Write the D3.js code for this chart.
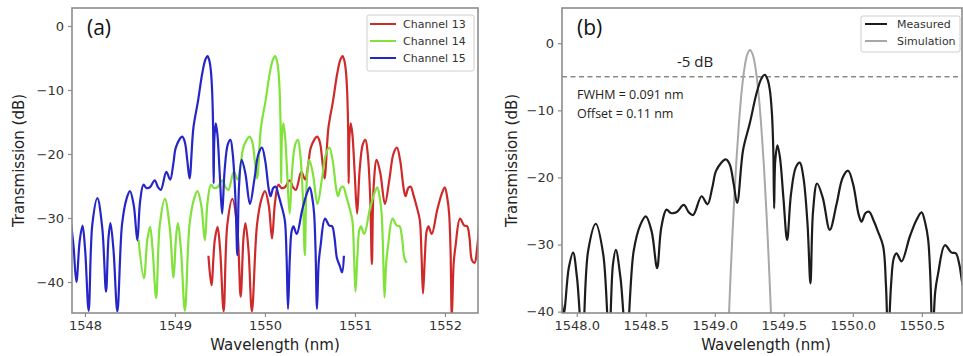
<!DOCTYPE html>
<html><head><meta charset="utf-8">
<script src="https://cdn.jsdelivr.net/npm/d3@7"></script>
<style>
html,body{margin:0;padding:0;background:#fff;}
svg{display:block;font-family:"DejaVu Sans",sans-serif;}
</style></head>
<body>
<svg id="chart" width="963" height="356"></svg>
<script>
// ---------------- DATA ----------------
const seriesNamesA = ["Channel 13", "Channel 14", "Channel 15"];
const seriesNamesB = ["Measured", "Simulation"];
const xTicksA = [1548, 1549, 1550, 1551, 1552];
const yTicksA = [0, -10, -20, -30, -40];
const xTicksB = [1548.0, 1548.5, 1549.0, 1549.5, 1550.0, 1550.5];
const yTicksB = [0, -10, -20, -30, -40];
const refLevelDb = -5;

// [wavelength (nm), transmission (dB)]
const ch15 = [
[1547.842,-30.5],[1547.872,-34.2],[1547.905,-40.0],[1547.942,-33.5],[1547.973,-31.2],[1548.002,-35],
[1548.041,-44.5],[1548.082,-31],[1548.138,-26.9],[1548.192,-31.5],[1548.234,-41.5],[1548.262,-33],
[1548.283,-30.8],[1548.317,-35],[1548.360,-44.6],[1548.412,-31],[1548.462,-27],[1548.500,-25.8],
[1548.542,-28],[1548.582,-33.5],[1548.612,-27.5],[1548.650,-24.8],[1548.682,-25.3],[1548.722,-25.2],
[1548.775,-24.1],[1548.812,-25.2],[1548.843,-25.6],[1548.904,-22.8],[1548.947,-24.0],[1548.982,-21.5],
[1549.012,-18.9],[1549.080,-17.3],[1549.109,-18.1],[1549.137,-21],[1549.162,-23.8],[1549.205,-15.9],
[1549.254,-11.9],[1549.302,-7.5],[1549.337,-5.3],[1549.362,-4.7],[1549.382,-5.4],[1549.399,-7.0],
[1549.414,-10.5],[1549.424,-16],[1549.430,-24.6],[1549.438,-17.5],[1549.454,-15.2],[1549.472,-17],
[1549.497,-23],[1549.524,-29.3],[1549.552,-22.5],[1549.587,-18.5],[1549.616,-17.8],[1549.642,-20],
[1549.672,-27],[1549.693,-35.8],[1549.712,-25],[1549.741,-20.9],[1549.782,-23],[1549.833,-27.8],
[1549.882,-24],[1549.927,-20],[1549.966,-19.0],[1550.002,-21],[1550.042,-25.5],[1550.063,-26.6],
[1550.092,-25.3],[1550.118,-25.1],[1550.152,-26.5],[1550.183,-28.1],[1550.220,-30.3],[1550.240,-36],
[1550.256,-44.2],[1550.277,-36],[1550.297,-32],[1550.317,-31.3],[1550.353,-32.5],[1550.413,-28.8],
[1550.462,-26.3],[1550.498,-25.2],[1550.527,-27],[1550.546,-29.3],[1550.562,-35],[1550.578,-44.2],
[1550.597,-37],[1550.618,-34.3],[1550.667,-30.1],[1550.715,-31.2],[1550.746,-31.3],[1550.772,-33],
[1550.800,-36.3],[1550.832,-37.5],[1550.857,-38.5],[1550.877,-35.9]
];

const ch14 = [
[1548.595,-33.4],[1548.655,-39.4],[1548.692,-33.5],[1548.723,-31.4],[1548.752,-35],[1548.791,-42.5],
[1548.832,-31],[1548.888,-27.0],[1548.942,-31.5],[1548.984,-39.3],[1549.012,-33],[1549.033,-30.8],
[1549.067,-35],[1549.110,-44.5],[1549.162,-31],[1549.212,-27],[1549.250,-25.8],[1549.292,-28],
[1549.332,-33.5],[1549.362,-27.5],[1549.400,-24.8],[1549.432,-25.3],[1549.472,-25.2],[1549.525,-24.1],
[1549.562,-25.2],[1549.593,-25.6],[1549.654,-22.8],[1549.697,-24.0],[1549.732,-21.5],[1549.762,-18.9],
[1549.830,-17.3],[1549.859,-18.1],[1549.887,-21],[1549.912,-23.8],[1549.955,-15.9],[1550.004,-11.9],
[1550.052,-7.5],[1550.087,-5.3],[1550.112,-4.7],[1550.132,-5.4],[1550.149,-7.0],[1550.164,-10.5],
[1550.174,-16],[1550.180,-24.6],[1550.188,-17.5],[1550.204,-15.2],[1550.222,-17],[1550.247,-23],
[1550.274,-29.3],[1550.302,-22.5],[1550.337,-18.5],[1550.366,-17.8],[1550.392,-20],[1550.422,-27],
[1550.443,-35.8],[1550.462,-25],[1550.491,-20.9],[1550.532,-23],[1550.583,-27.8],[1550.632,-24],
[1550.677,-20],[1550.716,-19.0],[1550.752,-21],[1550.792,-25.5],[1550.813,-26.6],[1550.842,-25.3],
[1550.868,-25.1],[1550.902,-26.5],[1550.933,-28.1],[1550.970,-30.3],[1550.990,-36],[1551.006,-41.5],
[1551.027,-36],[1551.047,-32],[1551.067,-31.3],[1551.103,-32.5],[1551.163,-28.8],[1551.212,-26.3],
[1551.248,-25.2],[1551.277,-27],[1551.296,-29.3],[1551.312,-35],[1551.328,-42.4],[1551.347,-37],
[1551.368,-34.3],[1551.417,-30.1],[1551.465,-31.2],[1551.496,-31.3],[1551.522,-33],[1551.550,-36.3],
[1551.575,-37.0]
];

const ch13 = [
[1549.372,-35.9],[1549.405,-40.5],[1549.442,-33.5],[1549.473,-31.4],[1549.502,-35],[1549.541,-44.6],
[1549.582,-31],[1549.638,-27.0],[1549.692,-31.5],[1549.730,-42.3],[1549.762,-33],[1549.783,-30.8],
[1549.817,-35],[1549.855,-44.6],[1549.912,-31],[1549.962,-27],[1550.000,-25.8],[1550.042,-28],
[1550.078,-33.2],[1550.112,-27.5],[1550.150,-24.8],[1550.182,-25.3],[1550.222,-25.2],[1550.275,-24.1],
[1550.312,-25.2],[1550.343,-25.6],[1550.404,-22.8],[1550.447,-24.0],[1550.482,-21.5],[1550.512,-18.9],
[1550.580,-17.3],[1550.609,-18.1],[1550.637,-21],[1550.662,-23.8],[1550.705,-15.9],[1550.754,-11.9],
[1550.802,-7.5],[1550.837,-5.3],[1550.862,-4.7],[1550.882,-5.4],[1550.899,-7.0],[1550.914,-10.5],
[1550.924,-16],[1550.930,-24.6],[1550.938,-17.5],[1550.954,-15.2],[1550.972,-17],[1550.997,-23],
[1551.024,-29.3],[1551.052,-22.5],[1551.087,-18.5],[1551.116,-17.8],[1551.142,-20],[1551.170,-27],
[1551.188,-37.2],[1551.208,-25],[1551.241,-20.9],[1551.282,-23],[1551.333,-27.8],[1551.382,-24],
[1551.427,-20],[1551.466,-19.0],[1551.502,-21],[1551.542,-25.5],[1551.563,-26.6],[1551.592,-25.3],
[1551.618,-25.1],[1551.652,-26.5],[1551.683,-28.1],[1551.720,-30.3],[1551.740,-36],[1551.756,-41.8],
[1551.777,-36],[1551.797,-32],[1551.817,-31.3],[1551.853,-32.5],[1551.913,-28.8],[1551.962,-26.3],
[1551.998,-25.2],[1552.027,-27],[1552.046,-29.3],[1552.062,-35],[1552.076,-45.5],[1552.097,-37],
[1552.118,-34.3],[1552.167,-30.1],[1552.215,-31.2],[1552.246,-31.3],[1552.272,-33],[1552.300,-36.6],
[1552.330,-37],[1552.357,-34.7],[1552.380,-31.5],[1552.400,-30]
];

const measured = [
[1547.842,-30.5],[1547.872,-34.2],[1547.905,-40.3],[1547.942,-33.5],[1547.973,-31.2],[1548.002,-35],
[1548.041,-44.5],[1548.082,-31],[1548.138,-26.9],[1548.192,-31.5],[1548.234,-44],[1548.262,-33],
[1548.283,-30.8],[1548.317,-35],[1548.360,-44.6],[1548.412,-31],[1548.462,-27],[1548.500,-25.8],
[1548.542,-28],[1548.582,-33.5],[1548.612,-27.5],[1548.650,-24.8],[1548.682,-25.3],[1548.722,-25.2],
[1548.775,-24.1],[1548.812,-25.2],[1548.843,-25.6],[1548.904,-22.8],[1548.947,-24.0],[1548.982,-21.5],
[1549.012,-18.9],[1549.080,-17.3],[1549.109,-18.1],[1549.137,-21],[1549.162,-23.8],[1549.205,-15.9],
[1549.254,-11.9],[1549.302,-7.5],[1549.337,-5.3],[1549.362,-4.7],[1549.382,-5.4],[1549.399,-7.0],
[1549.414,-10.5],[1549.424,-16],[1549.430,-24.6],[1549.438,-17.5],[1549.454,-15.2],[1549.472,-17],
[1549.497,-23],[1549.524,-29.3],[1549.552,-22.5],[1549.587,-18.5],[1549.616,-17.8],[1549.642,-20],
[1549.672,-27],[1549.693,-35.8],[1549.712,-25],[1549.741,-20.9],[1549.782,-23],[1549.833,-27.8],
[1549.882,-24],[1549.927,-20],[1549.966,-19.0],[1550.002,-21],[1550.042,-25.5],[1550.063,-26.6],
[1550.092,-25.3],[1550.118,-25.1],[1550.152,-26.5],[1550.183,-28.1],[1550.220,-30.3],[1550.240,-36],
[1550.256,-44.2],[1550.277,-36],[1550.297,-32],[1550.317,-31.3],[1550.353,-32.5],[1550.413,-28.8],
[1550.462,-26.3],[1550.498,-25.2],[1550.527,-27],[1550.546,-29.3],[1550.562,-35],[1550.578,-44.2],
[1550.597,-37],[1550.618,-34.3],[1550.667,-30.1],[1550.715,-31.2],[1550.746,-31.3],[1550.772,-33],
[1550.800,-36.3],[1550.832,-37.5]
];

const simulation = [
[1549.100,-41.8],[1549.115,-34.3],[1549.135,-25.5],[1549.155,-18.0],[1549.175,-11.9],[1549.195,-7.1],
[1549.215,-3.7],[1549.235,-1.7],[1549.255,-1.0],[1549.275,-1.7],[1549.295,-3.7],[1549.315,-7.1],
[1549.335,-11.9],[1549.355,-18.0],[1549.375,-25.5],[1549.395,-34.3],[1549.410,-41.8]
];

const colorsA = {"Channel 13":"#cf2a2a","Channel 14":"#80e23a","Channel 15":"#2626c8"};
const colorsB = {"Measured":"#1c1c1c","Simulation":"#a8a8a8"};

// ---------------- DRAW ----------------
const svg = d3.select("#chart");
const frameColor = "#8c8c8c";
const tickColor = "#333";

function panel(opts){
  const {left,right,top,bottom,xDomain,yDomain,xTicks,yTicks,xFmt,id} = opts;
  const x = d3.scaleLinear().domain(xDomain).range([left,right]);
  const y = d3.scaleLinear().domain(yDomain).range([bottom,top]);
  svg.append("clipPath").attr("id",id).append("rect")
     .attr("x",left).attr("y",top).attr("width",right-left).attr("height",bottom-top);

  const xa = svg.append("g").attr("transform",`translate(0,${bottom})`)
    .call(d3.axisBottom(x).tickValues(xTicks).tickFormat(xFmt).tickSizeOuter(0).tickSize(4).tickPadding(4));
  const ya = svg.append("g").attr("transform",`translate(${left},0)`)
    .call(d3.axisLeft(y).tickValues(yTicks).tickFormat(d3.format("d")).tickSizeOuter(0).tickSize(4).tickPadding(4));
  [xa,ya].forEach(a=>{
    a.select(".domain").remove();
    a.selectAll(".tick line").attr("stroke",frameColor).attr("stroke-width",1.2);
    a.selectAll(".tick text").attr("fill",tickColor).style("font-size","13px").style("font-family","DejaVu Sans");
  });
  const g = svg.append("g").attr("clip-path",`url(#${id})`);
  return {x,y,g,left,right,top,bottom};
}

function frame(p){
  svg.append("rect").attr("x",p.left).attr("y",p.top)
    .attr("width",p.right-p.left).attr("height",p.bottom-p.top)
    .attr("fill","none").attr("stroke",frameColor).attr("stroke-width",1.6);
}

// Panel (a)
const pa = panel({left:72,right:478,top:8,bottom:313,
  xDomain:[1547.856,1552.367], yDomain:[-44.84,2.81],
  xTicks:xTicksA, yTicks:yTicksA, xFmt:d3.format("d"), id:"clipA"});
const lineA = d3.line().x(d=>pa.x(d[0])).y(d=>pa.y(d[1])).curve(d3.curveCatmullRom.alpha(0.5));
const dataA = {"Channel 13":ch13,"Channel 14":ch14,"Channel 15":ch15};
seriesNamesA.forEach(n=>{
  pa.g.append("path").datum(dataA[n]).attr("d",lineA)
    .attr("fill","none").attr("stroke",colorsA[n]).attr("stroke-width",2.2).attr("stroke-linejoin","round");
});
frame(pa);

// Panel (b)
const pb = panel({left:562,right:962,top:8,bottom:313,
  xDomain:[1547.893,1550.791], yDomain:[-40.2,5.25],
  xTicks:xTicksB, yTicks:yTicksB, xFmt:d3.format(".1f"), id:"clipB"});
const lineB = d3.line().x(d=>pb.x(d[0])).y(d=>pb.y(d[1])).curve(d3.curveCatmullRom.alpha(0.5));
pb.g.append("line").attr("x1",pb.left).attr("x2",pb.right)
  .attr("y1",pb.y(refLevelDb)).attr("y2",pb.y(refLevelDb))
  .attr("stroke","#8a8a8a").attr("stroke-width",1.4).attr("stroke-dasharray","5,3.5");
pb.g.append("path").datum(simulation).attr("d",lineB)
  .attr("fill","none").attr("stroke",colorsB["Simulation"]).attr("stroke-width",2);
pb.g.append("path").datum(measured).attr("d",lineB)
  .attr("fill","none").attr("stroke",colorsB["Measured"]).attr("stroke-width",2.2).attr("stroke-linejoin","round");
frame(pb);

// Axis labels
svg.append("text").attr("x",(pa.left+pa.right)/2).attr("y",350).attr("text-anchor","middle")
  .style("font-size","15px").attr("fill","#222").text("Wavelength (nm)");
svg.append("text").attr("x",(pb.left+pb.right)/2+4).attr("y",350).attr("text-anchor","middle")
  .style("font-size","15px").attr("fill","#222").text("Wavelength (nm)");
svg.append("text").attr("transform",`translate(24,${(pa.top+pa.bottom)/2}) rotate(-90)`)
  .attr("text-anchor","middle").style("font-size","15px").attr("fill","#222").text("Transmission (dB)");
svg.append("text").attr("transform",`translate(517,${(pb.top+pb.bottom)/2}) rotate(-90)`)
  .attr("text-anchor","middle").style("font-size","15px").attr("fill","#222").text("Transmission (dB)");

// Panel letters
svg.append("text").attr("x",87).attr("y",35).style("font-size","21px").style("font-family","Open Sans")
  .attr("fill","#111").text("(a)");
svg.append("text").attr("x",577).attr("y",35).style("font-size","21px").style("font-family","Open Sans")
  .attr("fill","#111").text("(b)");

// Annotations
svg.append("text").attr("x",677).attr("y",67).style("font-size","15px").style("font-family","Open Sans")
  .attr("fill","#222").text("-5 dB");
svg.append("text").attr("x",577).attr("y",99).style("font-size","12.5px").style("font-family","Open Sans")
  .attr("fill","#222").text("FWHM = 0.091 nm");
svg.append("text").attr("x",577).attr("y",118).style("font-size","12.5px").style("font-family","Open Sans")
  .attr("fill","#222").text("Offset = 0.11 nm");

// Legends
function legend(x0,y0,w,h,names,colors,lx1,lx2,tx,rowY){
  svg.append("rect").attr("x",x0).attr("y",y0).attr("width",w).attr("height",h).attr("rx",2)
    .attr("fill","#fff").attr("stroke","#cfcfcf").attr("stroke-width",1);
  names.forEach((n,i)=>{
    svg.append("line").attr("x1",lx1).attr("x2",lx2).attr("y1",rowY[i]).attr("y2",rowY[i])
      .attr("stroke",colors[n]).attr("stroke-width",2);
    svg.append("text").attr("x",tx).attr("y",rowY[i]+4).style("font-size","11px").attr("fill","#333").text(n);
  });
}
legend(367,15,107,56,seriesNamesA,colorsA,370,396,403,[24,41,58]);
legend(861,16,99,36,seriesNamesB,colorsB,865,887,897,[24,41]);
</script>
</body></html>
